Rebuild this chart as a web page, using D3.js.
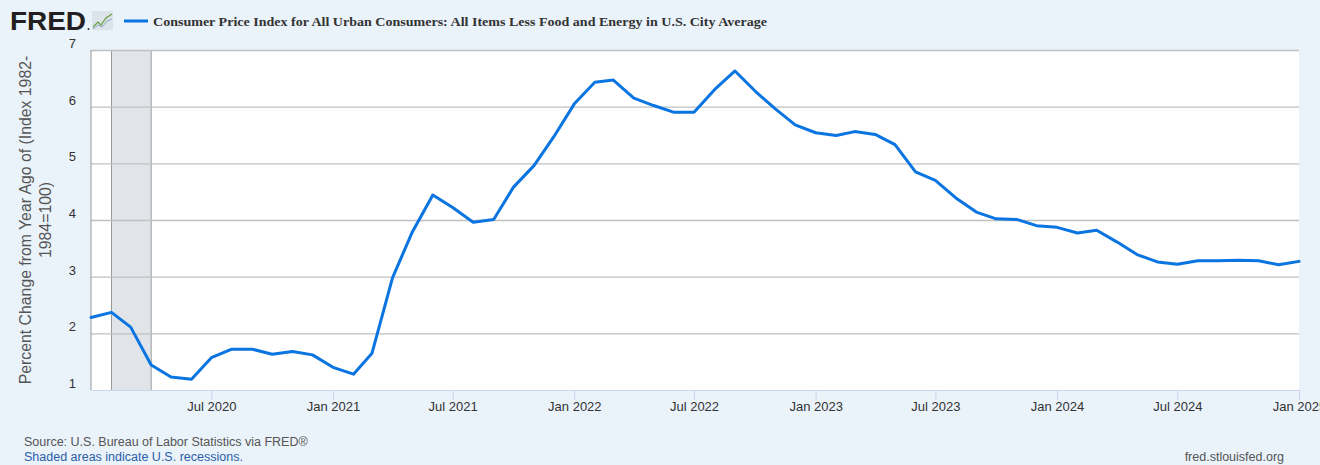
<!DOCTYPE html>
<html><head><meta charset="utf-8">
<script src="https://cdn.jsdelivr.net/npm/d3@7"></script>
<style>
html,body{margin:0;padding:0;background:#eaf2fa;}
svg{display:block;}
</style></head>
<body>
<svg id="chart" width="1320" height="465"></svg>
<script>
// ---- data ----
const startMonth = "2020-01";
const values = [
  2.28, 2.37, 2.11, 1.44, 1.23, 1.19, 1.57, 1.72, 1.72, 1.63, 1.68, 1.62,
  1.40, 1.28, 1.65, 2.98, 3.79, 4.44, 4.22, 3.96, 4.01, 4.58, 4.96, 5.47,
  6.05, 6.43, 6.47, 6.15, 6.02, 5.90, 5.90, 6.30, 6.63, 6.28, 5.96, 5.68,
  5.54, 5.49, 5.56, 5.51, 5.33, 4.85, 4.70, 4.39, 4.14, 4.02, 4.01, 3.90,
  3.87, 3.77, 3.82, 3.61, 3.39, 3.26, 3.22, 3.28, 3.28, 3.29, 3.28, 3.21,
  3.27
];
const yTicks = [1, 2, 3, 4, 5, 6, 7];
const xTickLabels = ["Jul 2020","Jan 2021","Jul 2021","Jan 2022","Jul 2022","Jan 2023","Jul 2023","Jan 2024","Jul 2024","Jan 2025"];
const recessions = [["2020-02-01","2020-04-01"]];
const seriesTitle = "Consumer Price Index for All Urban Consumers: All Items Less Food and Energy in U.S. City Average";
const yTitleLines = ["Percent Change from Year Ago of (Index 1982-", "1984=100)"];
const sourceText = "Source: U.S. Bureau of Labor Statistics via FRED®";
const recessionNote = "Shaded areas indicate U.S. recessions.";
const siteText = "fred.stlouisfed.org";

// ---- build ----
const parse = d3.timeParse("%Y-%m-%d");
const fmt = d3.timeFormat("%b %Y");
const start = parse(startMonth + "-01");
const data = values.map((v, i) => ({date: d3.timeMonth.offset(start, i), value: v}));

const svg = d3.select("#chart");
const L = 91, R = 1299, T = 50, B = 390;
const x = d3.scaleTime().domain(d3.extent(data, d => d.date)).range([L, R]);
const y = d3.scaleLinear().domain([1, 7]).range([B, T]);
const FONT = "'Liberation Sans', Arial, sans-serif";

// plot background
svg.append("rect").attr("x", L).attr("y", T).attr("width", R - L).attr("height", B - T).attr("fill", "#ffffff");

// recession bands
recessions.forEach(r => {
  const x0 = x(parse(r[0])), x1 = x(parse(r[1]));
  svg.append("rect").attr("x", x0).attr("y", T).attr("width", x1 - x0).attr("height", B - T)
    .attr("fill", "#e1e5ea");
  [x0, x1].forEach(xx => svg.append("line").attr("x1", xx).attr("x2", xx).attr("y1", T).attr("y2", B)
    .attr("stroke", "#999999").attr("stroke-width", 1));
});

// grid lines
const yAxis = d3.axisLeft(y).tickValues(yTicks).tickSize(-(R - L)).tickFormat(d3.format("d"));
const gy = svg.append("g").attr("transform", `translate(${L},0)`).call(yAxis);
gy.select(".domain").remove();
gy.selectAll(".tick line").attr("stroke", "#c0c0c0").attr("stroke-width", 1.3);
gy.selectAll(".tick line").filter(d => d === 1).remove();
gy.selectAll(".tick text").attr("x", -15).attr("dy", "-0.2em").attr("fill", "#333333")
  .attr("font-family", FONT).attr("font-size", 13).attr("text-anchor", "end");

// left plot border
svg.append("line").attr("x1", L).attr("x2", L).attr("y1", T).attr("y2", B).attr("stroke", "#999999").attr("stroke-width", 1);

// x axis
const xTickDates = xTickLabels.map(s => d3.timeParse("%b %Y")(s));
const xAxis = d3.axisBottom(x).tickValues(xTickDates).tickSize(10).tickFormat(fmt);
const gx = svg.append("g").attr("transform", `translate(0,${B})`).call(xAxis);
gx.select(".domain").attr("stroke", "#ccd6eb").attr("d", `M${L},0.5H${R}`);
gx.selectAll(".tick line").attr("stroke", "#ccd6eb");
gx.selectAll(".tick text").attr("y", 12).attr("dy", "0.71em").attr("fill", "#333333")
  .attr("font-family", FONT).attr("font-size", 13);

// line
const line = d3.line().x(d => x(d.date)).y(d => y(d.value));
svg.append("path").datum(data).attr("d", line).attr("fill", "none")
  .attr("stroke", "#0a74e0").attr("stroke-width", 3).attr("stroke-linejoin", "round").attr("stroke-linecap", "round");

// y title
const yt = svg.append("text").attr("transform", "translate(31,220) rotate(-90)")
  .attr("text-anchor", "middle").attr("font-family", FONT).attr("font-size", 15.8).attr("fill", "#555555");
yTitleLines.forEach((t, i) => yt.append("tspan").attr("x", 0).attr("dy", i === 0 ? 0 : 20).text(t));

// header: logo
svg.append("text").attr("x", 10).attr("y", 29.5).attr("font-family", "'Liberation Sans', Arial, sans-serif")
  .attr("font-weight", "bold").attr("font-size", 26).attr("fill", "#231f20")
  .attr("textLength", 76).attr("lengthAdjust", "spacingAndGlyphs").text("FRED");
svg.append("circle").attr("cx", 88.5).attr("cy", 29).attr("r", 0.9).attr("fill", "#231f20");
svg.append("rect").attr("x", 92).attr("y", 11).attr("width", 21).attr("height", 19).attr("fill", "#dde3ea").attr("rx", 1);
svg.append("polyline").attr("points", "93,27 98,22 101,25 106,18 112,14").attr("fill", "none").attr("stroke", "#6b9e3e").attr("stroke-width", 1.2);
svg.append("polyline").attr("points", "93,29 98,25 102,27 107,21 112,19").attr("fill", "none").attr("stroke", "#8aa7c4").attr("stroke-width", 1);

// legend
svg.append("line").attr("x1", 124).attr("x2", 148).attr("y1", 21).attr("y2", 21).attr("stroke", "#0a74e0").attr("stroke-width", 3);
svg.append("text").attr("x", 153).attr("y", 25.5).attr("font-family", "'Liberation Serif', 'Times New Roman', serif")
  .attr("font-weight", "bold").attr("font-size", 13).attr("fill", "#333333")
  .attr("textLength", 614).attr("lengthAdjust", "spacingAndGlyphs").text(seriesTitle);

// footer
svg.append("text").attr("x", 24).attr("y", 446).attr("font-family", FONT).attr("font-size", 12.5).attr("fill", "#555555").text(sourceText);
svg.append("text").attr("x", 24).attr("y", 461).attr("font-family", FONT).attr("font-size", 12.5).attr("fill", "#2b5ea8").text(recessionNote);
svg.append("text").attr("x", 1284).attr("y", 461).attr("text-anchor", "end").attr("font-family", FONT).attr("font-size", 12.5).attr("fill", "#555555").text(siteText);
</script>
</body></html>
